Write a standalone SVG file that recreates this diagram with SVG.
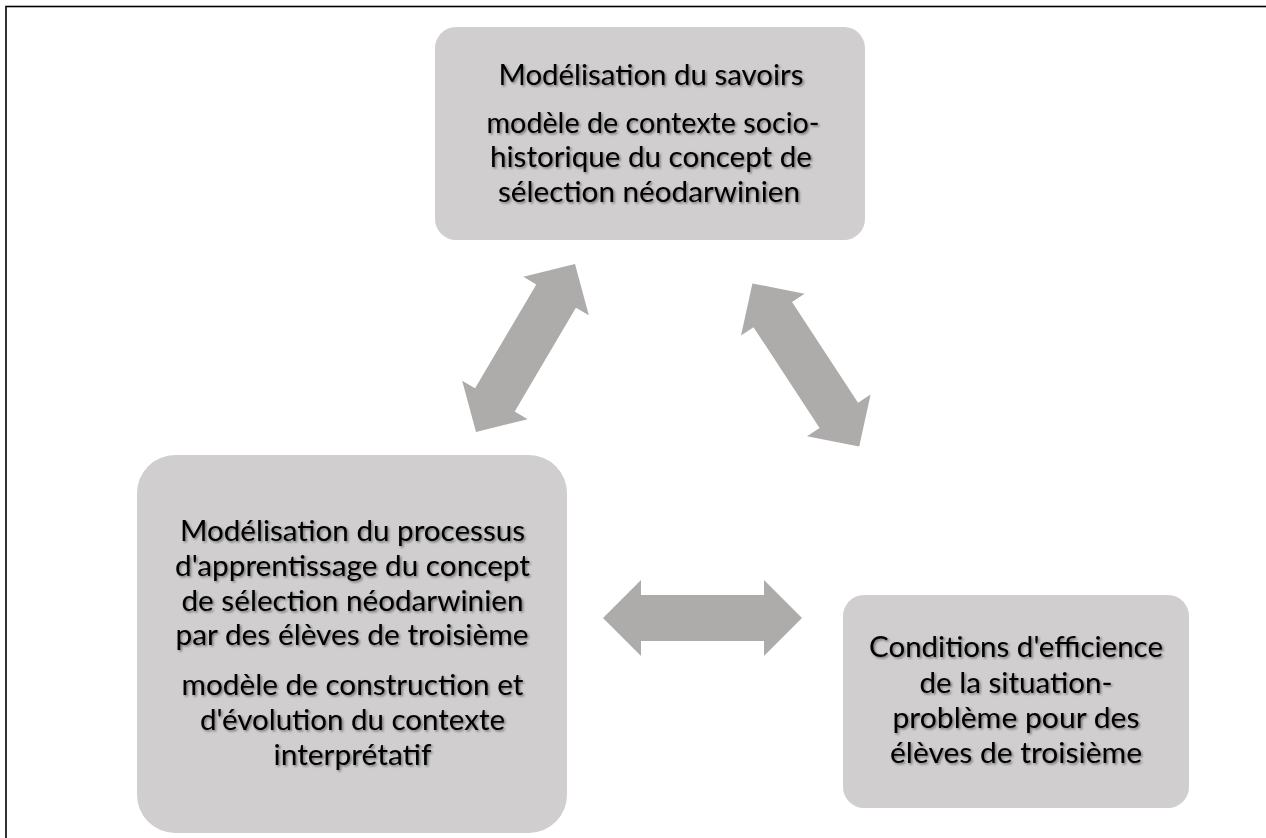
<svg xmlns="http://www.w3.org/2000/svg" width="1266" height="838" viewBox="0 0 1266 838">
<defs>
<style>
.box{fill:#d0cece;}
.arr{fill:#aeabab;}
.t{font-family:Lato,"Liberation Sans",sans-serif;font-size:28px;fill:#000;text-anchor:middle;filter:url(#sh);}
</style>
<filter id="sh" x="-10%" y="-30%" width="120%" height="160%">
<feDropShadow dx="1.5" dy="1.5" stdDeviation="1.1" flood-color="#000" flood-opacity="0.45"/>
</filter>
<path id="dbl" d="M-99.5,0 L-61.5,-38 L-61.5,-23 L61.5,-23 L61.5,-38 L99.5,0 L61.5,38 L61.5,23 L-61.5,23 L-61.5,38 Z"/>
</defs>
<rect x="0" y="0" width="1266" height="838" fill="#fff"/>
<rect x="6" y="6.5" width="1400" height="1000" fill="none" stroke="#000" stroke-width="1.6"/>
<g id="connectors">
<use href="#dbl" class="arr" transform="translate(525.5,348) rotate(-59.5) scale(0.98,1)"/>
<use href="#dbl" class="arr" transform="translate(805.8,365) rotate(56.8) scale(0.98,1)"/>
<use href="#dbl" class="arr" transform="translate(702.5,618)"/>
</g>
<g id="node-top">
<rect class="box" x="435" y="27" width="430" height="213" rx="21"/>
<text class="t" x="651" y="85" textLength="305" lengthAdjust="spacingAndGlyphs">Modélisation du savoirs</text>
<text class="t" x="653" y="133" textLength="333" lengthAdjust="spacingAndGlyphs">modèle de contexte socio-</text>
<text class="t" x="651" y="167" textLength="322" lengthAdjust="spacingAndGlyphs">historique du concept de</text>
<text class="t" x="649" y="202" textLength="302" lengthAdjust="spacingAndGlyphs">sélection néodarwinien</text>
</g>
<g id="node-left">
<rect class="box" x="137" y="455" width="430" height="378" rx="38"/>
<text class="t" x="352.5" y="541" textLength="345" lengthAdjust="spacingAndGlyphs">Modélisation du processus</text>
<text class="t" x="352.5" y="576" textLength="355" lengthAdjust="spacingAndGlyphs">d'apprentissage du concept</text>
<text class="t" x="352.5" y="611" textLength="342" lengthAdjust="spacingAndGlyphs">de sélection néodarwinien</text>
<text class="t" x="352" y="645" textLength="353" lengthAdjust="spacingAndGlyphs">par des élèves de troisième</text>
<text class="t" x="352.5" y="695" textLength="342" lengthAdjust="spacingAndGlyphs">modèle de construction et</text>
<text class="t" x="352.5" y="730" textLength="305" lengthAdjust="spacingAndGlyphs">d'évolution du contexte</text>
<text class="t" x="352.5" y="765" textLength="158" lengthAdjust="spacingAndGlyphs">interprétatif</text>
</g>
<g id="node-right">
<rect class="box" x="843" y="595" width="346" height="213" rx="21"/>
<text class="t" x="1016" y="657" textLength="294" lengthAdjust="spacingAndGlyphs">Conditions d'efficience</text>
<text class="t" x="1016" y="693" textLength="193" lengthAdjust="spacingAndGlyphs">de la situation-</text>
<text class="t" x="1016" y="728" textLength="247" lengthAdjust="spacingAndGlyphs">problème pour des</text>
<text class="t" x="1016" y="763" textLength="252" lengthAdjust="spacingAndGlyphs">élèves de troisième</text>
</g>
</svg>
